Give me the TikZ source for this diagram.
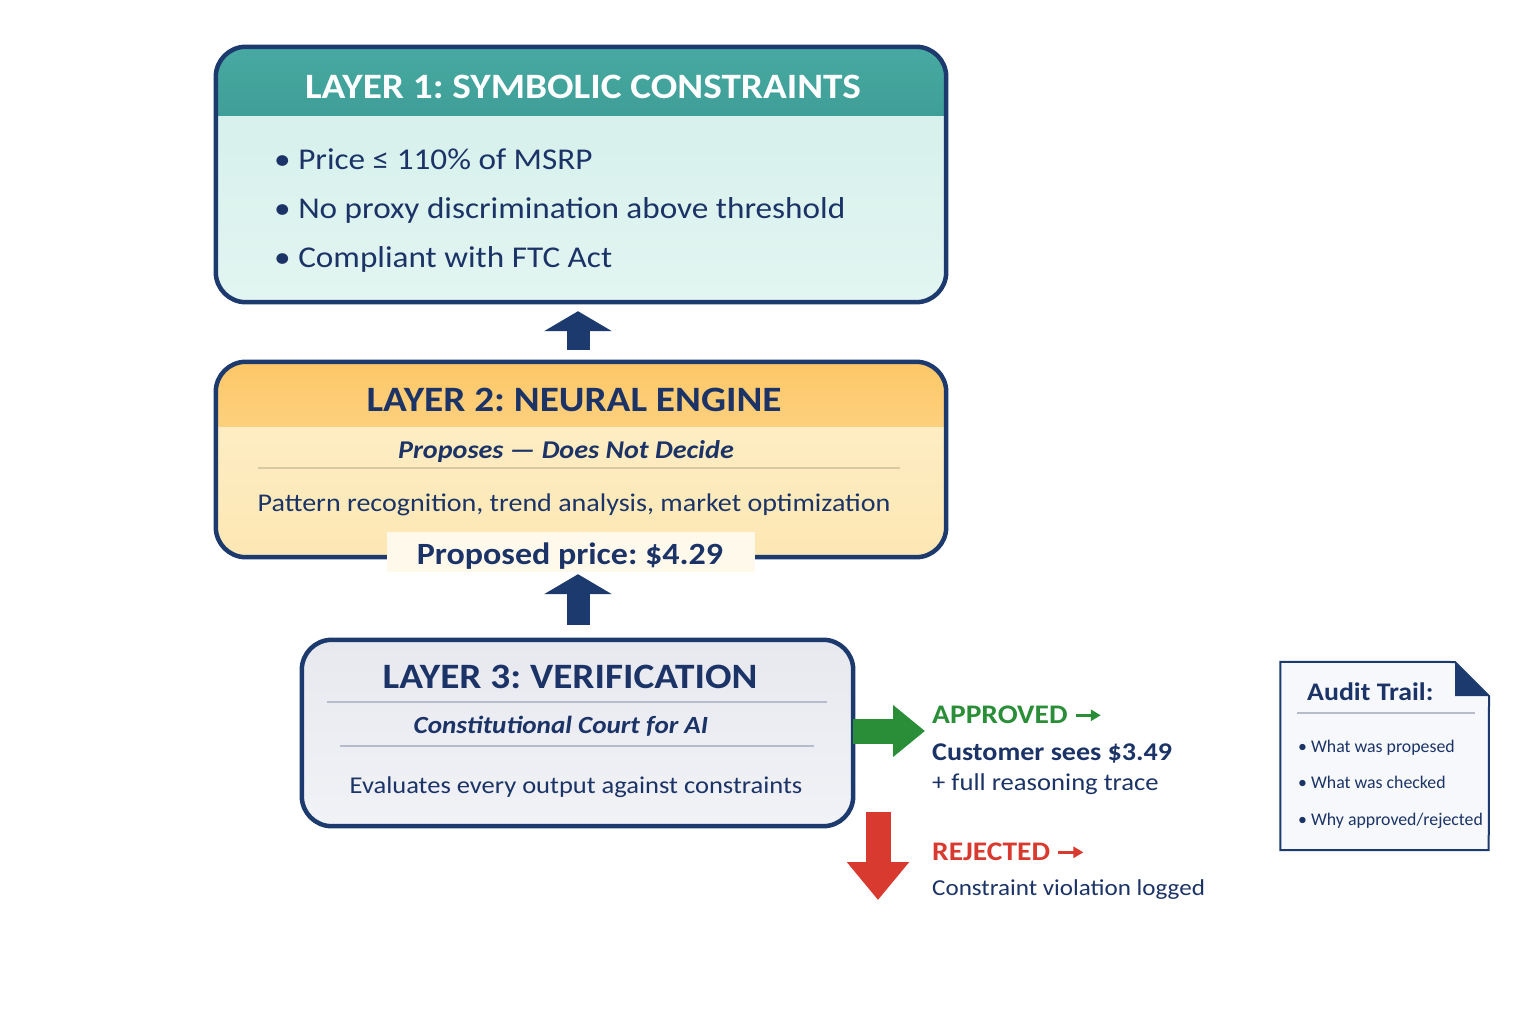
\documentclass[tikz,border=0pt]{standalone}
\usepackage{fontspec}
\setmainfont{Carlito}[FakeStretch=1.1]
\newfontfamily\plainf{Carlito}
\usetikzlibrary{arrows.meta,calc}
\definecolor{navy}{HTML}{1D3A6E}
\definecolor{txt}{HTML}{1B3366}
\definecolor{tealH}{HTML}{47A9A1}
\definecolor{tealH2}{HTML}{3F9F98}
\definecolor{tealB}{HTML}{D3EFEA}
\definecolor{tealB2}{HTML}{E2F5F1}
\definecolor{yelH}{HTML}{FDC766}
\definecolor{yelH2}{HTML}{FDD07E}
\definecolor{yelB}{HTML}{FEF0CC}
\definecolor{yelB2}{HTML}{FDE7B3}
\definecolor{greyB}{HTML}{E7E9EF}
\definecolor{greyB2}{HTML}{F1F2F6}
\definecolor{sepY}{HTML}{D8C9A2}
\definecolor{sepG}{HTML}{B6BCCB}
\definecolor{okgreen}{HTML}{2A8D38}
\definecolor{badred}{HTML}{D93A30}
\definecolor{docfill}{HTML}{F6F8FB}
\newcommand\fsz[1]{\fontsize{#1}{#1}\selectfont}
\frenchspacing
\begin{document}
\begin{tikzpicture}[x=1pt,y=-1pt,
  t/.style={inner sep=0pt,text=txt},
  frame/.style={draw=navy,line width=4.5pt,rounded corners=30pt},
  upblock/.style={navy,line width=23pt,-{Triangle[width=67pt,length=20pt]}},
]
\fill[white] (0,0) rectangle (1536,1024);
\useasboundingbox (0,0) rectangle (1536,1024);

% ---------- Layer 1
\node[inner sep=0pt,minimum width=730pt,minimum height=255pt,rounded corners=30pt,
      top color=tealB,bottom color=tealB2] (b1) at (581,174.5) {};
\begin{scope}
  \clip[rounded corners=30pt] (216,47) rectangle (946,302);
  \shade[top color=tealH,bottom color=tealH2] (216,47) rectangle (946,116);
\end{scope}
\draw[frame] (b1.north west) rectangle (b1.south east);
\node[t,text=white,font=\bfseries\fsz{35.7},anchor=base] (t1) at (583,99) {LAYER 1: SYMBOLIC CONSTRAINTS};
\node[t,font=\fsz{30.2},anchor=base west] (l1a) at (274,170) {\textbullet\ Price ≤ 110\% of MSRP};
\node[t,font=\fsz{30.2},anchor=base west] (l1b) at (274,219) {\textbullet\ No proxy discrimination above threshold};
\node[t,font=\fsz{30.2},anchor=base west] (l1c) at (274,268) {\textbullet\ Compliant with FTC Act};

% ---------- Layer 2
\node[inner sep=0pt,minimum width=730pt,minimum height=195pt,rounded corners=30pt,
      top color=yelB,bottom color=yelB2] (b2) at (581,459.5) {};
\begin{scope}
  \clip[rounded corners=30pt] (216,362) rectangle (946,557);
  \shade[top color=yelH,bottom color=yelH2] (216,362) rectangle (946,426);
\end{scope}
\draw[frame] (b2.north west) rectangle (b2.south east);
\node[t,font=\bfseries\fsz{35.7},anchor=base] (t2) at (574,411) {LAYER 2: NEURAL ENGINE};
\node[t,font=\bfseries\itshape\fsz{25.6},anchor=base] (s2) at (566,458) {Proposes — Does Not Decide};
\draw[sepY,line width=1.5pt] (258,468) -- (900,468);
\node[t,font=\fsz{25.5},anchor=base] (p2) at (574,511) {Pattern recognition, trend analysis, market optimization};
\node[inner sep=0pt,fill=white!60!yelB,minimum width=368pt,minimum height=40pt] (ppbg) at (571,552) {};
\node[t,font=\bfseries\fsz{30.9},anchor=base] (pp) at (570,564) {Proposed price: \$4.29};

% ---------- Layer 3
\node[inner sep=0pt,minimum width=551pt,minimum height=186pt,rounded corners=30pt,
      top color=greyB,bottom color=greyB2] (b3) at (577.5,733) {};
\draw[frame] (b3.north west) rectangle (b3.south east);
\node[t,font=\bfseries\fsz{35.7},anchor=base] (t3) at (570,688) {LAYER 3: VERIFICATION};
\draw[sepG,line width=1.5pt] (327,702) -- (827,702);
\node[t,font=\bfseries\itshape\fsz{24.7},anchor=base] (s3) at (561,733) {Constitutional Court for AI};
\draw[sepG,line width=1.5pt] (340,746) -- (814,746);
\node[t,font=\fsz{24.1},anchor=base] (e3) at (576,793) {Evaluates every output against constraints};

% ---------- vertical arrows
\draw[upblock,shorten <=12pt,shorten >=9pt] (b2.north -| 578,0) -- (b1.south -| 578,0);
\draw[upblock,shorten <=15pt,shorten >=2pt] (b3.north -| 578,0) -- (ppbg.south -| 578,0);

% ---------- outcomes
\node[t,text=okgreen,font=\bfseries\fsz{26.8},anchor=base west] (appr) at (932,723) {APPROVED};
\draw[okgreen,line width=3pt,-{Triangle[width=11pt,length=10pt]}] ([xshift=8pt,yshift=-1pt]appr.east) -- ++(25,0);
\node[t,font=\bfseries\fsz{25.5},anchor=base west] (cust) at (932,760) {Customer sees \$3.49};
\node[t,font=\fsz{24.2},anchor=base west] (trace) at (932,790) {+ full reasoning trace};
\draw[okgreen,line width=25pt,-{Triangle[width=50pt,length=32pt]}] (b3.east |- 0,731) -- (appr.west |- 0,731) [shorten >=7pt];

\node[t,text=badred,font=\bfseries\fsz{26.8},anchor=base west] (rej) at (932,860) {REJECTED};
\draw[badred,line width=3pt,-{Triangle[width=11pt,length=10pt]}] ([xshift=8pt,yshift=-1pt]rej.east) -- ++(25,0);
\node[t,font=\fsz{22.8},anchor=base west] (viol) at (932,895) {Constraint violation logged};
\coordinate (rs) at (878,812);
\coordinate (re) at (878,900);
\draw[badred,line width=25pt,-{Triangle[width=60pt,length=38pt]}] (rs) -- (re);

% ---------- audit trail
\node[inner sep=0pt,minimum width=208pt,minimum height=188pt] (audit) at (1384.5,756) {};
\draw[navy,line width=2pt,fill=docfill] (audit.north west) -- (1455,662) -- (1489,696) -- (audit.south east) -- (audit.south west) -- cycle;
\fill[navy] (1455,662) -- (1489,696) -- (1455,696) -- cycle;
\node[t,font=\bfseries\fsz{25.3},anchor=base west] (at) at (1307,700) {Audit Trail:};
\draw[sepG,line width=1.5pt] (1297,713) -- (1475,713);
\node[t,font=\plainf\fsz{17.8},anchor=base west] (a1) at (1298,752) {\textbullet\ What was propesed};
\node[t,font=\plainf\fsz{17.8},anchor=base west] (a2) at (1298,788) {\textbullet\ What was checked};
\node[t,font=\plainf\fsz{17.8},anchor=base west] (a3) at (1298,825) {\textbullet\ Why approved/rejected};
\end{tikzpicture}
\end{document}
